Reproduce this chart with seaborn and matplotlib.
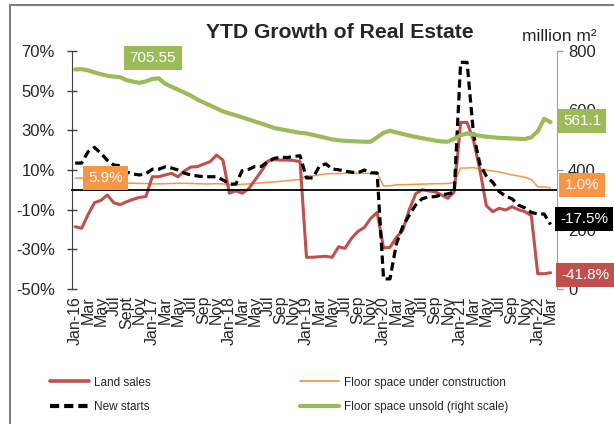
import matplotlib
matplotlib.use("Agg")
import matplotlib.pyplot as plt
import seaborn as sns
import pandas as pd
from matplotlib import font_manager as fm
from matplotlib.lines import Line2D
from matplotlib.patches import Rectangle

sns.set_style("white")
names = {f.name for f in fm.fontManager.ttflist}
HAS_NARROW = "Liberation Sans Narrow" in names
FONT = "Liberation Sans Narrow" if HAS_NARROW else "Liberation Sans"
k = 1.15 if HAS_NARROW else 1.0   # narrow face can be set a little larger
plt.rcParams["font.family"] = [FONT, "DejaVu Sans"]

# month index 0 = Jan-16 ... 74 = Mar-22
tick_labels = ["Jan-16", "Mar", "May", "Jul", "Sept", "Nov",
               "Jan-17", "Mar", "May", "Jul", "Sep", "Nov",
               "Jan-18", "Mar", "May", "Jul", "Sep", "Nov",
               "Jan-19", "Mar", "May", "Jul", "Sep", "Nov",
               "Jan-20", "Mar", "May", "Jul", "Sep", "Nov",
               "Jan-21", "Mar", "May", "Jul", "Sep", "Nov",
               "Jan-22", "Mar"]

land_sales = [-18.6, -19.4, -12.5, -6.5, -5.3, -2.6, -6.5, -7.5, -6.0, -4.8, -3.8, -3.4,
              6.6, 6.6, 7.5, 8.3, 6.6, 9.5, 11.5, 11.7, 13.0, 14.2, 17.5, 15.0,
              -1.7, -0.5, -1.7, 0.5, 5.0, 9.5, 14.5, 15.2, 15.0, 15.0, 14.8, 14.2,
              -34.0, -34.0, -33.7, -33.5, -34.0, -28.7, -29.5, -24.5, -21.0, -19.0, -14.4, -11.4,
              -29.3, -29.0, -24.0, -20.3, -10.0, -2.0, 0.0, -0.5, -1.0, -2.5, -4.3, -1.0,
              34.0, 34.0, 25.0, 10.0, -8.0, -11.0, -9.3, -10.2, -8.5, -10.0, -11.0, -13.0,
              -42.3, -42.3, -41.8]

new_starts = [13.5, 13.5, 19.2, 21.4, 18.4, 14.9, 12.5, 12.2, 9.0, 8.0, 7.5, 8.1,
              10.4, 10.4, 11.6, 11.0, 10.0, 8.4, 7.5, 7.0, 6.6, 6.6, 6.6, 5.0,
              2.9, 2.9, 9.7, 10.3, 11.8, 11.8, 14.4, 15.9, 16.4, 16.3, 16.8, 17.2,
              6.0, 6.0, 11.9, 13.1, 10.5, 10.1, 9.5, 8.9, 8.6, 10.0, 8.6, 8.5,
              -44.9, -44.9, -27.2, -18.4, -12.8, -7.6, -4.5, -3.6, -3.4, -2.6, -2.0, -1.2,
              64.3, 64.3, 28.2, 12.8, 6.9, 3.8, -0.9, -3.2, -4.5, -7.7, -9.1, -11.4,
              -12.2, -12.2, -17.5]

under_construction = [5.9, 5.9, 5.5, 5.0, 4.5, 4.2, 3.9, 3.6, 3.4, 3.3, 3.2, 3.2,
                      3.0, 3.0, 3.1, 3.2, 3.3, 3.3, 3.2, 3.1, 3.0, 3.0, 3.1, 3.0,
                      2.5, 2.5, 2.8, 3.0, 3.2, 3.5, 3.8, 4.0, 4.3, 4.6, 4.9, 5.2,
                      7.0, 7.0, 7.6, 8.0, 8.2, 8.2, 8.3, 8.3, 8.3, 8.3, 8.3, 8.3,
                      2.0, 2.0, 2.5, 2.6, 2.7, 2.8, 2.9, 3.0, 3.1, 3.1, 3.2, 3.7,
                      11.0, 11.0, 11.2, 10.5, 10.0, 9.5, 9.0, 8.3, 7.5, 7.0, 6.3, 5.2,
                      1.5, 1.5, 1.0]

unsold = [738, 739, 735, 728, 722, 717, 714, 712, 702, 697, 693, 698,
          706, 708, 690, 680, 670, 660, 650, 637, 627, 617, 607, 597,
          590, 584, 577, 570, 563, 556, 549, 541, 537, 533, 529, 525,
          523, 518, 513, 508, 503, 500, 498, 497, 496, 495, 495, 510,
          525, 532, 526, 521, 516, 511, 507, 503, 499, 496, 495, 505,
          517, 523, 519, 515, 512, 510, 508, 507, 506, 505, 504, 510,
          530, 572, 561.1]

RED = "#c0504d"
GREEN = "#9bbb59"
ORANGE = "#f79646"

df = pd.DataFrame({"m": range(len(land_sales)), "land": land_sales, "starts": new_starts,
                   "constr": under_construction, "unsold": unsold})

fig = plt.figure(figsize=(6.14, 4.24), dpi=100)
ax = fig.add_axes([72 / 614, 1 - 289 / 424, 485 / 614, 238 / 424])
ax2 = ax.twinx()

sns.lineplot(data=df, x="m", y="constr", ax=ax, color=ORANGE, linewidth=1.1)
sns.lineplot(data=df, x="m", y="land", ax=ax, color=RED, linewidth=2.2)
sns.lineplot(data=df, x="m", y="starts", ax=ax, color="black", linewidth=2.3,
             linestyle=(0, (2.6, 1.4)))
sns.lineplot(data=df, x="m", y="unsold", ax=ax2, color=GREEN, linewidth=3)

ax.set_xlim(-0.5, 75)
ax.set_ylim(-50, 70)
ax2.set_ylim(0, 800)
ax.set_xlabel("")
ax.set_ylabel("")
ax2.set_ylabel("")

# zero line carries monthly ticks, labels sit at the bottom
ax.spines["bottom"].set_position(("data", 0))
ax.spines["bottom"].set_color("black")
ax.spines["bottom"].set_linewidth(1.3)
ax.spines["top"].set_visible(False)
ax.spines["right"].set_visible(False)
ax.spines["left"].set_color("#404040")
ax.set_xticks(range(0, 75))
ax.tick_params(axis="x", direction="in", length=4, width=1, color="black", labelbottom=False)

ax.set_yticks(range(-50, 71, 20))
ax.set_yticklabels([f"{v}%" for v in range(-50, 71, 20)])
ax.tick_params(axis="y", direction="inout", length=7, width=1, color="#404040",
               labelsize=12 * k, pad=9)

sec = ax.secondary_xaxis("bottom")
sec.set_xticks(range(0, 75, 2))
sec.set_xticklabels(tick_labels, rotation=90, family="Liberation Sans", fontsize=11.5)
sec.tick_params(length=0, pad=5)
sec.spines["bottom"].set_visible(False)

for s in ["top", "left", "bottom"]:
    ax2.spines[s].set_visible(False)
ax2.spines["right"].set_color("#a0a0a0")
ax2.set_yticks(range(0, 801, 200))
ax2.tick_params(axis="y", direction="out", length=4, width=1, color="#a0a0a0",
                labelsize=12 * k, pad=4)

# value boxes
box = dict(fontsize=11 * k, color="white", ha="center", va="center", clip_on=False, zorder=10)
ax2.text(12.1, 776, "705.55", bbox=dict(boxstyle="square,pad=0.35", fc=GREEN, ec="none"), **box)
ax2.text(78.9, 565, "561.1", bbox=dict(boxstyle="square,pad=0.35", fc=GREEN, ec="none"), **box)
ax2.text(4.7, 6.0, "5.9%", transform=ax.transData,
         bbox=dict(boxstyle="square,pad=0.35", fc=ORANGE, ec="none"), **box)
ax2.text(78.9, 2.4, "1.0%", transform=ax.transData,
         bbox=dict(boxstyle="square,pad=0.35", fc=ORANGE, ec="none"), **box)
ax2.text(79.2, -14.7, "-17.5%", transform=ax.transData,
         bbox=dict(boxstyle="square,pad=0.35", fc="black", ec="none"), **box)
ax2.text(79.5, -43, "-41.8%", transform=ax.transData,
         bbox=dict(boxstyle="square,pad=0.35", fc=RED, ec="none"), **box)

fig.text(340 / 614, 1 - 33 / 424, "YTD Growth of Real Estate", ha="center", va="center",
         fontsize=15.2 * k, fontweight="bold")
fig.text(597 / 614, 1 - 41 / 424, "million m²", ha="right", va="baseline",
         fontsize=12.5, family="Liberation Sans")

h1 = [Line2D([], [], color=RED, lw=2.6), Line2D([], [], color="black", lw=3, linestyle=(0, (2.2, 1.2)))]
h2 = [Line2D([], [], color=ORANGE, lw=1.3), Line2D([], [], color=GREEN, lw=3)]
leg_kw = dict(loc="center left", frameon=False, fontsize=8.5 * k, handlelength=3.3,
              handletextpad=0.4, labelspacing=1.1, borderpad=0, borderaxespad=0)
fig.legend(h1, ["Land sales", "New starts"], bbox_to_anchor=(50 / 614, 1 - 395 / 424), **leg_kw)
fig.legend(h2, ["Floor space under construction", "Floor space unsold (right scale)"],
           bbox_to_anchor=(300 / 614, 1 - 395 / 424), **leg_kw)

# outer frame of the chart area
fig.patches.append(Rectangle((10 / 614, -0.2), 2, 1.2 - 5 / 424, transform=fig.transFigure,
                             fill=False, ec="#7f7f7f", lw=1.5))

fig.savefig("out.png", dpi=100)
